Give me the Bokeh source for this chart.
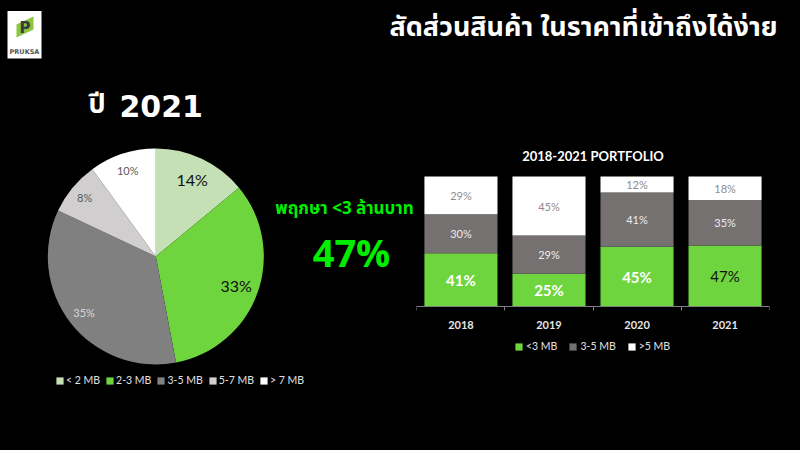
import numpy as np
from bokeh.plotting import figure
from bokeh.models import (Range1d, ColumnDataSource, Legend, LegendItem,
                          FixedTicker, LinearAxis)
from bokeh.layouts import column, row
from bokeh.embed import file_html
from bokeh.resources import INLINE
from bokeh.core.properties import value

# ---------------- data ----------------
pie_categories = ["< 2 MB", "2-3 MB", "3-5 MB", "5-7 MB", "> 7 MB"]
pie_values = [14, 33, 35, 8, 10]

years = ["2018", "2019", "2020", "2021"]
bar_series = ["<3 MB", "3-5 MB", ">5 MB"]
under_3mb = [41, 25, 45, 47]
between_3_5mb = [30, 29, 41, 35]
over_5mb = [29, 45, 12, 18]

page_title = "สัดส่วนสินค้า ในราคาที่เข้าถึงได้ง่าย"
year_prefix = "ปี"
year_label = "2021"
highlight_text = "พฤกษา <3 ล้านบาท"
highlight_value = 47
bar_title = "2018-2021 PORTFOLIO"
logo_text = "PRUKSA"

# ---------------- styles ----------------
BG = "#000000"
pie_colors = ["#c5e0b4", "#6fd53e", "#808080", "#d0cece", "#ffffff"]
bar_colors = ["#6fd53e", "#767171", "#ffffff"]
THAI = value("Noto Sans Thai, Noto Sans, sans-serif")
LAT = "Lato"


def blank(w, h, xr, yr, **kw):
    p = figure(width=w, height=h, x_range=xr, y_range=yr, toolbar_location=None,
               output_backend="svg", background_fill_color=BG,
               border_fill_color=BG, outline_line_color=None,
               x_axis_location=None, y_axis_location=None, **kw)
    p.grid.visible = False
    return p


# ---------------- top strip ----------------
T = blank(800, 64, Range1d(0, 800), Range1d(64, 0), min_border=0)
T.quad(left=7, right=41, top=10.5, bottom=58, color="#ffffff", line_color=None)
T.patch([16, 33, 33, 16], [24, 16, 29, 37], color="#8cc63e", line_color=None)
T.text(x=[24.5], y=[27], text=["P"], text_align="center", text_baseline="middle",
       text_font=value("DejaVu Sans"), text_font_style="bold",
       text_font_size="15px", text_color="#3a3a3a")
T.text(x=[24], y=[51], text=[logo_text], text_align="center", text_baseline="middle",
       text_font=value("DejaVu Sans"), text_font_style="bold",
       text_font_size="6.5px", text_color="#555555")
T.text(x=[777], y=[27], text=[page_title], text_align="right",
       text_baseline="alphabetic", text_font=THAI, text_font_style="bold",
       text_font_size="27px", text_color="#ffffff")

# ---------------- left: pie ----------------
L = blank(416, 386, Range1d(0, 416), Range1d(450, 64), min_border=0)

L.text(x=[88], y=[104], text=[year_prefix], text_align="left",
       text_baseline="alphabetic", text_font=THAI, text_font_style="bold",
       text_font_size="27px", text_color="#ffffff")
L.text(x=[119], y=[105], text=[year_label], text_align="left",
       text_baseline="alphabetic", text_font=value("DejaVu Sans"),
       text_font_style="bold", text_font_size="30px", text_color="#ffffff")

cx, cy, R = 155.3, 256.0, 108.0
vals = np.array(pie_values, dtype=float)
frac = vals / vals.sum()
c1 = np.cumsum(frac)
c0 = c1 - frac
start = np.pi / 2 - 2 * np.pi * c0
end = np.pi / 2 - 2 * np.pi * c1
mid = (start + end) / 2
label_r = np.array([0.79, 0.79, 0.84, 0.855, 0.84]) * R
pie_src = ColumnDataSource(dict(
    start=start, end=end, color=pie_colors, cat=pie_categories,
    lx=cx + label_r * np.cos(mid), ly=cy - label_r * np.sin(mid),
    txt=[f"{v}%" for v in pie_values],
    tcol=["#111111", "#111111", "#d8d8d8", "#595959", "#595959"],
    tsize=["16px", "16px", "11px", "11px", "11px"],
))
wedges = L.wedge(x=cx, y=cy, radius=R, start_angle="start", end_angle="end",
                 direction="clock", fill_color="color", line_color=None,
                 source=pie_src)
L.text(x="lx", y="ly", text="txt", text_color="tcol", text_font_size="tsize",
       text_align="center", text_baseline="middle", text_font=value(LAT),
       source=pie_src)

pie_legend = Legend(
    items=[LegendItem(label=c, renderers=[wedges], index=i)
           for i, c in enumerate(pie_categories)],
    orientation="horizontal", location=(55, 64), glyph_width=9, glyph_height=9,
    label_height=10, label_standoff=2, spacing=5, padding=0, margin=0,
    label_text_font_size="10.5px", label_text_color="#e0e0e0",
    label_text_font=LAT, border_line_color=None, background_fill_alpha=0)
L.add_layout(pie_legend)

L.text(x=[344], y=[208], text=[highlight_text], text_align="center",
       text_baseline="middle", text_font=THAI, text_font_style="bold",
       text_font_size="17px", text_color="#00ee00")
L.text(x=[351], y=[251], text=[f"{highlight_value}%"], text_align="center",
       text_baseline="middle", text_font=value("Open Sans"), text_font_style="bold",
       text_font_size="38px", text_color="#00ee00")

# ---------------- right: stacked bars ----------------
# frame spans the full panel height; 0..100 maps to page y 306..176
n = len(years)
px_per_unit = 1.3
y_lo = -(450 - 306) / px_per_unit
y_hi = (306 - 64) / px_per_unit
B = figure(width=384, height=386, x_range=Range1d(-0.005, n + 0.005),
           y_range=Range1d(y_lo, y_hi), toolbar_location=None, output_backend="svg",
           background_fill_color=BG, border_fill_color=BG, outline_line_color=None,
           x_axis_location=None, y_axis_location=None, min_border_left=0,
           min_border_right=31, min_border_top=0, min_border_bottom=0)
B.grid.visible = False

series = np.array([under_3mb, between_3_5mb, over_5mb], dtype=float)
shares = series / series.sum(axis=0) * 100
tops = np.cumsum(shares, axis=0)
bottoms = tops - shares
centers = np.arange(n) + 0.5

label_styles = [
    dict(col=["#ffffff", "#ffffff", "#ffffff", "#111111"],
         sty=["bold", "bold", "bold", "normal"], size="15px"),
    dict(col=["#ececec"] * n, sty=["normal"] * n, size="11px"),
    dict(col=["#8c8c8c"] * n, sty=["normal"] * n, size="11px"),
]
bar_items = []
for k, name in enumerate(bar_series):
    src = ColumnDataSource(dict(
        x=centers, bottom=bottoms[k], top=tops[k],
        ym=(bottoms[k] + tops[k]) / 2,
        txt=[f"{int(v)}%" for v in series[k]],
        col=label_styles[k]["col"], sty=label_styles[k]["sty"]))
    r = B.vbar(x="x", width=0.83, bottom="bottom", top="top",
               fill_color=bar_colors[k], line_color=None, source=src)
    B.text(x="x", y="ym", text="txt", text_color="col", text_font_style="sty",
           text_font_size=label_styles[k]["size"], text_align="center",
           text_baseline="middle", text_font=value(LAT), source=src)
    bar_items.append(LegendItem(label=name, renderers=[r]))

ax = LinearAxis(fixed_location=0)
ax.ticker = FixedTicker(ticks=list(centers), minor_ticks=list(range(n + 1)))
ax.major_label_overrides = {float(c): y for c, y in zip(centers, years)}
ax.axis_line_color = "#808080"
ax.major_tick_line_color = None
ax.major_tick_in = 0
ax.major_tick_out = 0
ax.minor_tick_line_color = "#808080"
ax.minor_tick_in = 0
ax.minor_tick_out = 4
ax.major_label_standoff = 10
ax.major_label_text_color = "#e6e6e6"
ax.major_label_text_font = LAT
ax.major_label_text_font_style = "bold"
ax.major_label_text_font_size = "11px"
B.add_layout(ax, "below")

B.text(x=[n / 2], y=[100 + (176 - 155) / px_per_unit], text=[bar_title],
       text_align="center", text_baseline="middle", text_font=value(LAT),
       text_font_style="bold", text_font_size="13px", text_color="#ffffff")

bar_legend = Legend(
    items=bar_items, orientation="horizontal", location=(98, 98),
    glyph_width=9, glyph_height=9, label_height=10, label_standoff=3,
    spacing=11, padding=0, margin=0, label_text_font_size="10.5px",
    label_text_color="#e0e0e0", label_text_font=LAT, border_line_color=None,
    background_fill_alpha=0)
B.add_layout(bar_legend)

layout = column(T, row(L, B, spacing=0), spacing=0)
html = file_html(layout, INLINE)
html = html.replace("<body>", '<body style="margin:0;background:#000;">')
open("out.html", "w").write(html)
